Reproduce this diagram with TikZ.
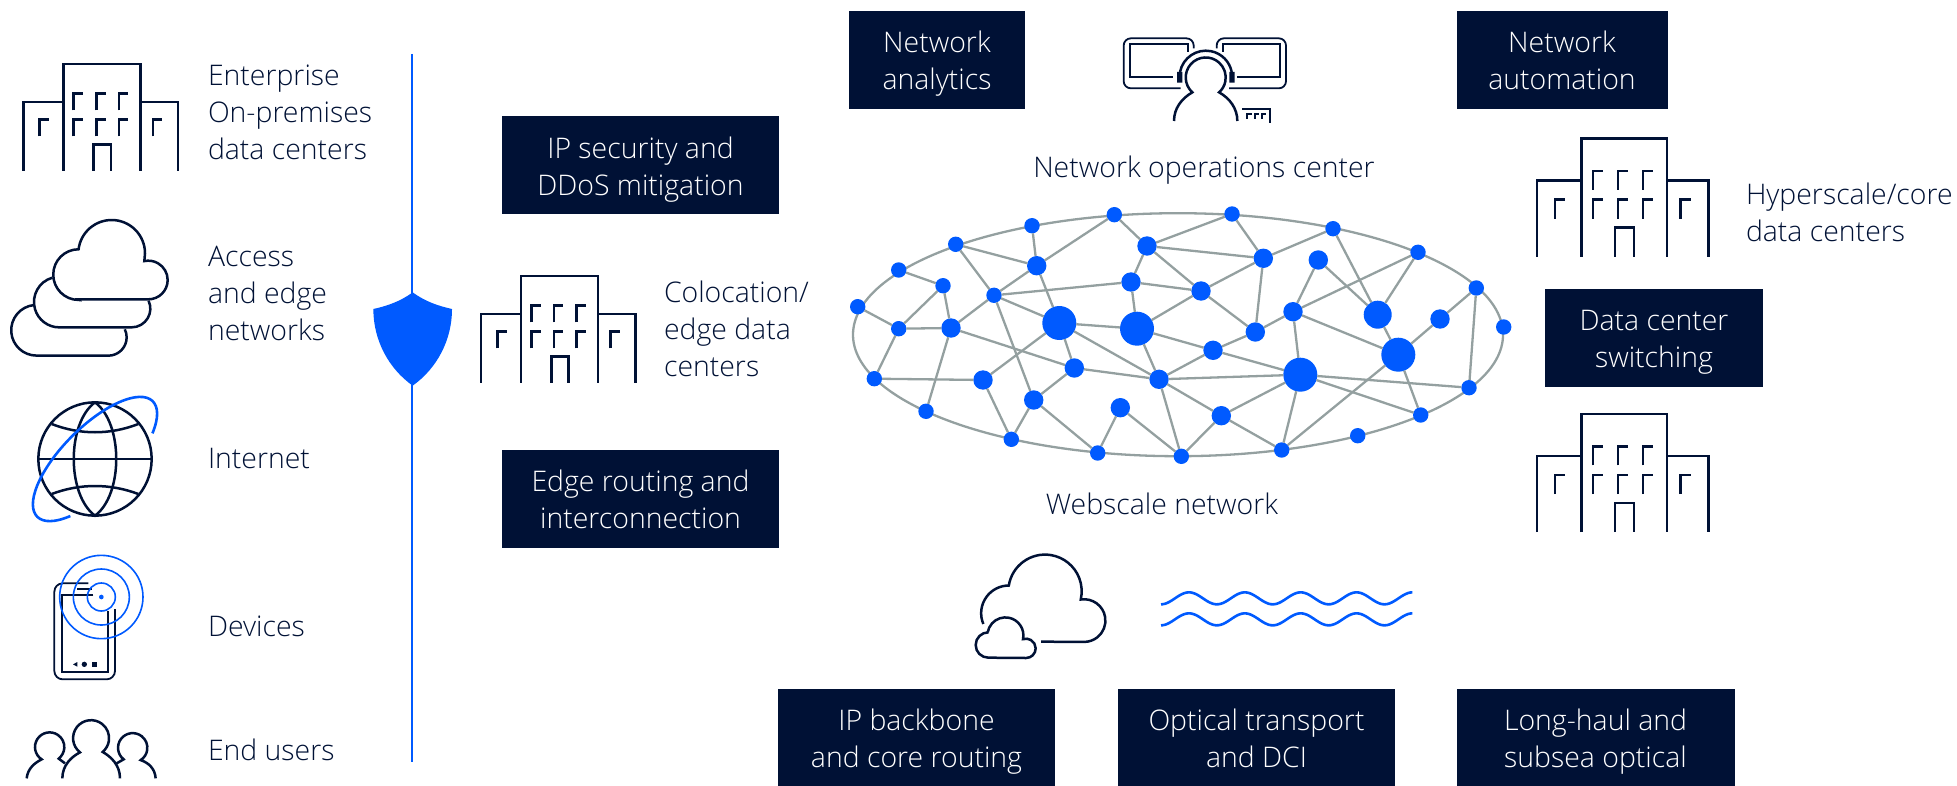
\documentclass[tikz,border=0pt]{standalone}
\usepackage{fontspec}
\setmainfont{Open Sans Light}
\definecolor{navy}{HTML}{001135}
\definecolor{nblue}{HTML}{005AFF}
\definecolor{edge}{HTML}{94A0A0}
\newcommand{\topstrut}{\rule[-5.55pt]{0pt}{22.3pt}}
\tikzset{
  every node/.style={inner sep=0pt,outer sep=0pt},
  lbl/.style={text=navy,font=\fontsize{14.2}{18.5}\selectfont,align=left,anchor=west},
  lblc/.style={lbl,align=center,anchor=center},
  box/.style={fill=navy,text=white,font=\fontsize{14.2}{18.5}\selectfont,align=center,minimum height=49pt},
  nd/.style={circle,fill=nblue,inner sep=0pt},
  ns/.style={nd,minimum size=7.7pt},
  nm/.style={nd,minimum size=9.7pt},
  nx/.style={nd,minimum size=14pt},
  nl/.style={nd,minimum size=17pt},
  ink/.style={draw=navy,line width=1.25pt,line join=miter},
  inkb/.style={draw=nblue,line width=1.3pt},
  building/.pic={
    \draw[ink] (0,106.7)--(0,38)--(40.2,38) (40.2,106.7)--(40.2,0)--(117.2,0)--(117.2,106.7)
      (117.2,38)--(154.7,38)--(154.7,106.7) (70.4,106.7)--(70.4,80.3)--(87.7,80.3)--(87.7,106.7);
    \foreach \wx/\wy in {50.4/29.3,73/29.3,95.7/29.3,50.4/55.3,73/55.3,95.7/55.3,16.4/55.3,129.7/55.3}
      \draw[ink] (\wx,\wy+17)--(\wx,\wy)--(\wx+9.3,\wy);
  }
}
\begin{document}
\begin{tikzpicture}[x=0.5pt,y=-0.5pt]
\useasboundingbox (0,0) rectangle (1957,786);

% ---------- boxes
\node[box,minimum width=88pt]   (analytics)  at (937,60)    {\topstrut Network\\\strut analytics};
\node[box,minimum width=105.5pt](automation) at (1562,60) {\topstrut Network\\\strut automation};
\node[box,minimum width=138.5pt](ipsec)      at (640.5,165.5) {\topstrut IP security and\\\strut DDoS mitigation};
\node[box,minimum width=138.5pt](edgerout)   at (640.5,499) {\topstrut Edge routing and\\\strut interconnection};
\node[box,minimum width=109pt]  (dcswitch)   at (1654,338)  {\topstrut Data center\\\strut switching};
\node[box,minimum width=138.5pt](backbone)   at (916.5,737.5) {\topstrut IP backbone\\\strut and core routing};
\node[box,minimum width=138.5pt](optical)    at (1256.5,737.5) {\topstrut Optical transport\\\strut and DCI};
\node[box,minimum width=139pt]  (longhaul)   at (1595.5,737.5) {\topstrut Long-haul and\\\strut subsea optical};

% ---------- labels
\node[lbl] (tent) at (208,115) {\strut Enterprise\\\strut On-premises\\\strut data centers};
\node[lbl] (tacc) at (208,296) {\strut Access\\\strut and edge\\\strut networks};
\node[lbl] (tint) at (208,461) {\strut Internet};
\node[lbl] (tdev) at (208,629) {\strut Devices};
\node[lbl] (tusr) at (208,753) {\strut End users};
\node[lbl] (tcol) at (664,332) {\strut Colocation/\\\strut edge data\\\strut centers};
\node[lbl] (thyp) at (1746,215.5) {\strut Hyperscale/core\\\strut data centers};
\node[lblc] (tnoc) at (1204,169.7) {\strut Network operations center};
\node[lblc] (tweb) at (1162,506.7) {\strut Webscale network};

% ---------- buildings
\pic at (23.3,64) {building};
\pic at (481,276) {building};
\pic[scale=1.107] at (1537,138.5) {building};
\pic[scale=1.107] at (1537,414) {building};

% ---------- separator and shield
\coordinate (lineTop) at (412,54);
\coordinate (lineBot) at (412,762);
\draw[draw=nblue,line width=1.3pt] (lineTop)--(lineBot);
\begin{scope}[shift={(0,40)},x=0.16667pt,y=-0.16667pt]
  \fill[nblue] (1238,757) .. controls (1200,785) and (1160,798) .. (1120,807)
    .. controls (1120,900) and (1165,985) .. (1238,1037)
    .. controls (1311,985) and (1356,900) .. (1356,807)
    .. controls (1316,798) and (1276,785) .. (1238,757) -- cycle;
  % clouds
  \draw[ink] (234,778)--(445,778) arc[start angle=90,end angle=-102,radius=58]
    -- (435,640) arc[start angle=0,end angle=-173,radius=100]
    arc[start angle=-90,end angle=-270,radius=76] -- cycle;
  \draw[ink] (157,713) arc[start angle=254,end angle=90,radius=76] -- (395,862)
    arc[start angle=90,end angle=-25,radius=56];
  \draw[ink] (103,795) arc[start angle=265,end angle=90,radius=76] -- (325,947)
    arc[start angle=90,end angle=-26,radius=55];
\end{scope}

% ---------- globe, phone, people
\begin{scope}[shift={(0,400)},x=0.16667pt,y=-0.16667pt]
  \draw[ink] (285,177) circle[radius=170];
  \draw[ink] (115,177)--(455,177);
  \draw[ink] (285,7) .. controls (200,70) and (200,284) .. (285,347) .. controls (370,284) and (370,70) .. (285,7);
  \draw[ink] (155,72) .. controls (240,105) and (330,105) .. (415,72);
  \draw[ink] (155,282) .. controls (240,250) and (330,250) .. (415,282);
  \draw[inkb,rotate around={45:(285,177)}] (285,177) ++(44:245 and 97)
    arc[start angle=44,end angle=-225,x radius=245,y radius=97];
  % phone
  \draw[draw=navy,line width=0.9pt,rounded corners=4.2pt] (265,550)--(163,550)--(163,838)--(345,838)--(345,627);
  \draw[draw=navy,line width=0.9pt] (280,585)--(185,585)--(185,815)--(323,815)--(323,632);
  \draw[draw=navy,line width=0.9pt] (232,568)--(275,568);
  \fill[navy] (219,793)--(232,786)--(232,800)--cycle;
  \fill[navy] (253,793) circle[radius=8];
  \fill[navy] (277,787) rectangle (290,800);
  \foreach \r in {42,84,125} \draw[draw=nblue,line width=0.8pt] (304,591) circle[radius=\r];
  \fill[nblue] (304,591) circle[radius=7];
  % people
  \draw[ink] (187,1135) .. controls (187,1095) and (215,1070) .. (240,1057)
    arc[start angle=128,end angle=410,radius=54]
    .. controls (333,1070) and (360,1095) .. (360,1135);
  \draw[ink] (80,1135) .. controls (83,1105) and (105,1088) .. (125,1078)
    arc[start angle=123,end angle=412,radius=44] -- (195,1090);
  \draw[ink] (350,1090) -- (371,1078) arc[start angle=128,end angle=417,radius=44]
    .. controls (445,1088) and (465,1105) .. (467,1135);
\end{scope}

% ---------- operator
\begin{scope}[shift={(1090,20)},x=0.16667pt,y=-0.16667pt]
  \draw[draw=navy,line width=0.9pt,rounded corners=3.6pt] (272,205)--(101,205)--(101,55)--(311,55)--(311,85);
  \draw[draw=navy,line width=0.9pt] (248,172)--(120,172)--(120,72)--(293,72)--(293,95);
  \draw[draw=navy,line width=0.9pt,rounded corners=3.6pt] (417,205)--(588,205)--(588,55)--(380,55)--(380,85);
  \draw[draw=navy,line width=0.9pt] (441,172)--(571,172)--(571,72)--(398,72)--(398,95);
  \draw[ink] (270,156) arc[start angle=191,end angle=349,radius=79];
  \fill[navy] (261,156) rectangle (277,188) (418,156) rectangle (434,188);
  \draw[ink] (252,303) .. controls (252,265) and (275,235) .. (307,217)
    arc[start angle=132,end angle=408,radius=60]
    .. controls (419,235) and (442,265) .. (442,303);
  \draw[draw=navy,line width=0.9pt] (456,268)--(541,268)--(541,308);
  \foreach \tx in {472,494,516} \draw[draw=navy,line width=0.9pt] (\tx,296)--(\tx,283)--(\tx+13,283);
\end{scope}

% ---------- bottom cloud and waves
\begin{scope}[shift={(960,540)},x=0.16667pt,y=-0.16667pt]
  \draw[ink] (70,252) arc[start angle=157,end angle=270,radius=83]
    arc[start angle=189,end angle=373,radius=110]
    arc[start angle=-99,end angle=90,radius=64] -- (243,305);
  \draw[ink] (85,277) arc[start angle=-90,end angle=-270,radius=38] -- (198,354)
    arc[start angle=90,end angle=-108,radius=29]
    arc[start angle=12,end angle=-170,radius=54];
  \draw[inkb] plot[domain=0:9,samples=120,smooth] ({603+83.8*\x},{175+18*cos(180*\x)});
  \draw[inkb] plot[domain=0:9,samples=120,smooth] ({603+83.8*\x},{238+18*cos(180*\x)});
\end{scope}

% ---------- network
\draw[draw=edge,line width=1.15pt] (1178,334.7) ellipse[x radius=325,y radius=121.5];
\foreach \nm/\st/\px/\py in {
 n1/ns/857.7/306.7, n2/ns/898.7/270, n3/ns/955.7/244.3, n4/ns/1032/225.7, n5/ns/1114.3/214.7,
 n6/nm/1147/246, n7/ns/943/285.7, n8/nm/1036.7/265.7, n9/ns/994/295.3, n10/nm/1131/282,
 n11/ns/898.7/328.7, n12/nm/951/328, n13/nl/1059.3/323, n14/nl/1137/328.7, n15/ns/874.3/378.7,
 n16/nm/983/380, n17/nm/1074.3/368, n18/nm/1159/379.3, n19/nm/1033.7/400, n20/ns/926/411.3,
 n21/nm/1120.3/407.7, n22/ns/1011.3/439.3, n23/ns/1097.7/453, n24/ns/1181.3/456.3,
 n25/ns/1232/214, n26/ns/1333/228.7, n27/ns/1418/252.3, n28/ns/1476.3/288, n29/ns/1503.7/327,
 n30/nm/1263.3/258.3, n31/nm/1318.3/260, n32/nm/1201/291, n33/nm/1293/311.7, n34/nx/1377.7/314.7,
 n35/nm/1440/319, n36/nm/1255.3/332, n37/nm/1213/350.3, n38/nl/1398.3/354.7, n39/nl/1300.3/374.7,
 n40/ns/1469/387.7, n41/nm/1221.3/415.7, n42/ns/1420.7/415, n43/ns/1357.7/435.7, n44/ns/1281.7/450}
  \node[\st] (\nm) at (\px,\py) {};
\foreach \a/\b in {
 n1/n11,n2/n7,n7/n11,n7/n12,n11/n12,n11/n15,n15/n16,n12/n20,n12/n9,n12/n17,n3/n9,n3/n8,n4/n8,n5/n8,
 n8/n9,n8/n13,n9/n13,n9/n10,n9/n19,n5/n6,n6/n10,n10/n14,n13/n14,n13/n16,n13/n17,n13/n18,n14/n18,
 n14/n32,n14/n37,n10/n32,n6/n25,n6/n30,n6/n32,n17/n18,n17/n19,n19/n22,n19/n23,n16/n22,n21/n23,
 n21/n24,n18/n24,n18/n37,n18/n39,n18/n41,n41/n24,n41/n39,n41/n44,n39/n44,n39/n37,n38/n44,n39/n33,
 n33/n36,n36/n37,n36/n30,n36/n32,n30/n32,n30/n25,n30/n26,n33/n31,n33/n27,n33/n38,n31/n34,n26/n34,
 n27/n34,n34/n38,n38/n35,n35/n28,n28/n40,n38/n42,n39/n40,n39/n42}
  \draw[draw=edge,line width=1.15pt] (\a)--(\b);
\end{tikzpicture}
\end{document}
